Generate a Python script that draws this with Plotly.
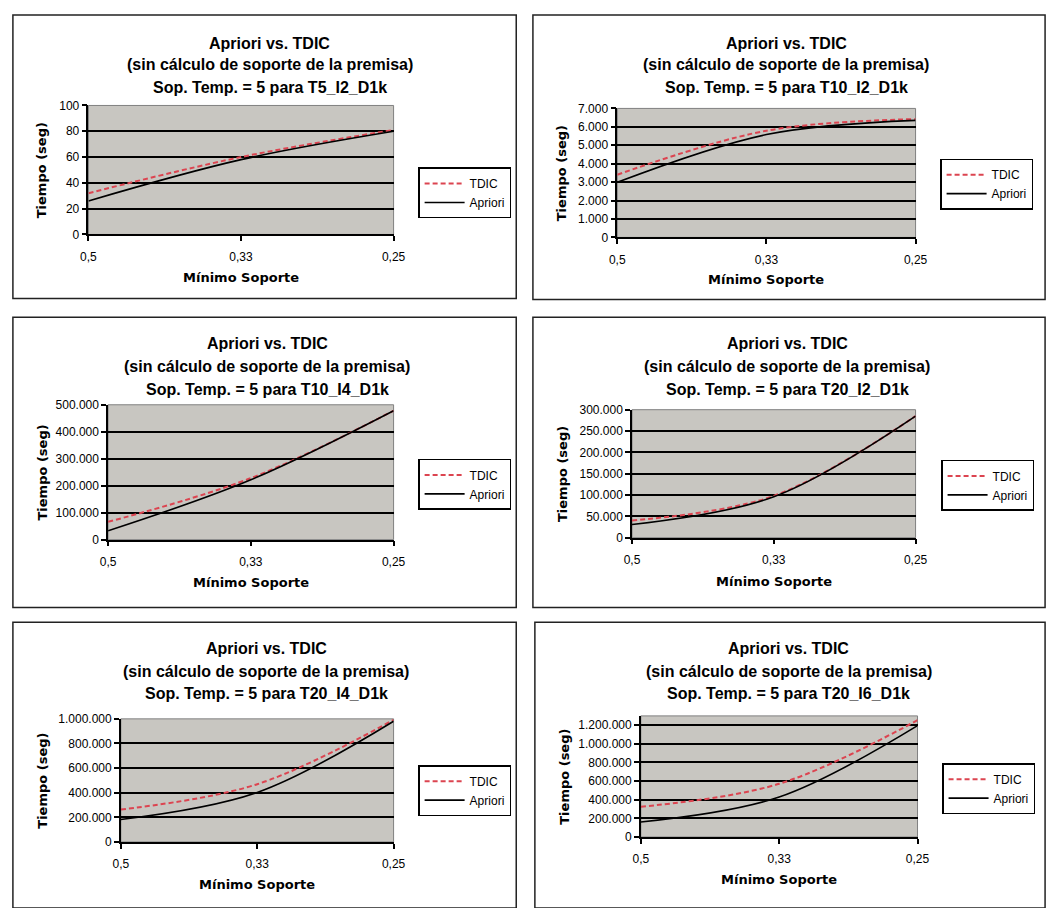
import plotly.graph_objects as go

W, H = 1061, 908

categories = ["0,5", "0,33", "0,25"]

titles_line3 = [
    "Sop. Temp. = 5 para T5_I2_D1k",
    "Sop. Temp. = 5 para T10_I2_D1k",
    "Sop. Temp. = 5 para T10_I4_D1k",
    "Sop. Temp. = 5 para T20_I2_D1k",
    "Sop. Temp. = 5 para T20_I4_D1k",
    "Sop. Temp. = 5 para T20_I6_D1k",
]

tdic_t5_i2 = [32, 60, 81]
apriori_t5_i2 = [26, 58, 80]
tdic_t10_i2 = [3400, 5790, 6420]
apriori_t10_i2 = [2990, 5580, 6350]
tdic_t10_i4 = [66000, 228000, 478000]
apriori_t10_i4 = [33000, 222000, 478000]
tdic_t20_i2 = [40500, 98000, 285000]
apriori_t20_i2 = [31000, 96000, 285000]
tdic_t20_i4 = [263000, 469000, 992000]
apriori_t20_i4 = [182000, 402000, 981000]
tdic_t20_i6 = [325000, 571000, 1254000]
apriori_t20_i6 = [161000, 429000, 1196000]

tdic_all = [tdic_t5_i2, tdic_t10_i2, tdic_t10_i4, tdic_t20_i2, tdic_t20_i4, tdic_t20_i6]
apriori_all = [apriori_t5_i2, apriori_t10_i2, apriori_t10_i4, apriori_t20_i2, apriori_t20_i4, apriori_t20_i6]

y_max = [100, 7000, 500000, 300000, 1000000, 1300000]
y_step = [20, 1000, 100000, 50000, 200000, 200000]

# layout (pixels)
plot_boxes = [  # x0, x1, ytop, ybottom
    (82, 393, 100, 231),
    (621, 925, 103, 234),
    (102, 393, 404, 541),
    (636, 925, 409, 539),
    (115, 393, 723, 848),
    (645, 927, 720, 843),
]
chart_boxes = [
    (5, 518, 8, 296),
    (535, 1057, 8, 297),
    (5, 518, 315, 610),
    (535, 1057, 315, 610),
    (5, 518, 625, 915),
    (537, 1057, 625, 915),
]
legend_pos = [(418, 163), (950, 154), (418, 459), (951, 460), (418, 770), (952, 768)]
title_x = [267, 793, 264, 794, 263, 796]
title_y = [(37, 58, 82), (37, 58, 82), (342, 365, 388), (342, 365, 388), (652, 675, 697), (652, 675, 697)]
ytitle_x = [35, 565, 35, 565, 35, 567]
xtitle_y = [275, 277, 585, 583, 891, 886]


def px(x):
    return x / W


def py(y):
    return 1 - y / H


fig = go.Figure()
annotations = []
shapes = []
layout = dict(
    width=W, height=H,
    margin=dict(l=0, r=0, t=0, b=0),
    paper_bgcolor="white",
    plot_bgcolor="#C8C6C1",
    separators=",.",
    font=dict(family="Liberation Sans, Arial, sans-serif", size=12, color="black"),
    showlegend=True,
)

for i in range(6):
    n = i + 1
    xa = "x" if n == 1 else f"x{n}"
    ya = "y" if n == 1 else f"y{n}"
    leg = "legend" if n == 1 else f"legend{n}"
    fig.add_trace(go.Scatter(
        x=categories, y=tdic_all[i], name="TDIC", mode="lines",
        line=dict(color="#DC4450", width=2, dash="5px,3px", shape="spline"),
        xaxis=xa, yaxis=ya, legend=leg,
    ))
    fig.add_trace(go.Scatter(
        x=categories, y=apriori_all[i], name="Apriori", mode="lines",
        line=dict(color="black", width=1.6, shape="spline"),
        xaxis=xa, yaxis=ya, legend=leg,
    ))
    x0, x1, yt, yb = plot_boxes[i]
    xkey = "xaxis" if n == 1 else f"xaxis{n}"
    ykey = "yaxis" if n == 1 else f"yaxis{n}"
    layout[xkey] = dict(
        domain=[px(x0), px(x1)], anchor=ya, type="category",
        categoryorder="array", categoryarray=categories,
        range=[0, 2], showgrid=False, showline=True, linecolor="black", linewidth=1.5,
        ticks="outside", ticklen=5, tickcolor="black", tickwidth=1.5,
        ticklabelstandoff=5,
        tickfont=dict(size=12, family="Liberation Sans, Arial, sans-serif"),
        zeroline=False, fixedrange=True,
    )
    layout[ykey] = dict(
        domain=[py(yb), py(yt)], anchor=xa,
        range=[0, y_max[i]], tick0=0, dtick=y_step[i], tickformat=",d",
        showgrid=True, gridcolor="black", gridwidth=1.5,
        showline=True, linecolor="black", linewidth=1.5,
        ticks="outside", ticklen=5, tickcolor="black", tickwidth=1.5,
        tickfont=dict(size=12, family="Liberation Sans, Arial, sans-serif"),
        zeroline=False, fixedrange=True,
    )
    lx, ly = legend_pos[i]
    layout[leg] = dict(
        x=px(lx), y=py(ly), xanchor="left", yanchor="top",
        bgcolor="white", bordercolor="black", borderwidth=1.5,
        font=dict(size=12, family="Liberation Sans, Arial, sans-serif"),
        traceorder="normal", tracegroupgap=0, itemwidth=40,
    )
    # plot area grey border (top/right)
    shapes.append(dict(type="rect", xref="paper", yref="paper",
                       x0=px(x0), x1=px(x1), y0=py(yb), y1=py(yt),
                       line=dict(color="#808080", width=1), layer="below"))
    # chart box border
    cx0, cx1, cy0, cy1 = chart_boxes[i]
    shapes.append(dict(type="rect", xref="paper", yref="paper",
                       x0=px(cx0), x1=px(cx1), y0=py(cy1), y1=py(cy0),
                       line=dict(color="#222222", width=1.5)))
    # titles
    lines = ["Apriori vs. TDIC", "(sin cálculo de soporte de la premisa)", titles_line3[i]]
    for t, yy in zip(lines, title_y[i]):
        annotations.append(dict(
            text=f"<b>{t}</b>", x=px(title_x[i]), y=py(yy), xref="paper", yref="paper",
            xanchor="center", yanchor="middle", showarrow=False,
            font=dict(size=16, family="Liberation Sans, Arial, sans-serif", color="black"),
        ))
    # axis titles
    annotations.append(dict(
        text="<b>Tiempo (seg)</b>", x=px(ytitle_x[i]), y=py((yt + yb) / 2),
        xref="paper", yref="paper", xanchor="center", yanchor="middle",
        textangle=-90, showarrow=False,
        font=dict(size=13, family="DejaVu Sans, Verdana, sans-serif", color="black"),
    ))
    annotations.append(dict(
        text="<b>Mínimo Soporte</b>", x=px((x0 + x1) / 2), y=py(xtitle_y[i]),
        xref="paper", yref="paper", xanchor="center", yanchor="middle",
        showarrow=False,
        font=dict(size=13, family="DejaVu Sans, Verdana, sans-serif", color="black"),
    ))

layout["annotations"] = annotations
layout["shapes"] = shapes
fig.update_layout(**layout)
fig.write_html(
    "out.html",
    config={"displayModeBar": False},
    post_script="document.body.style.margin='0';document.body.style.overflow='hidden';",
)
